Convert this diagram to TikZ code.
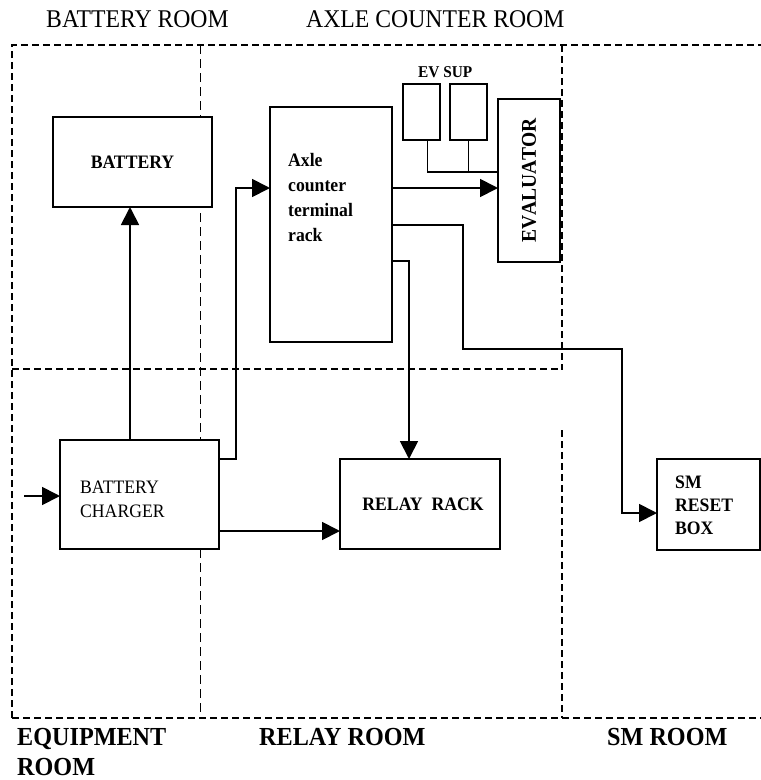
\documentclass[tikz,border=0pt]{standalone}
\usepackage{fontspec}
\setmainfont[FakeStretch=0.93]{Liberation Serif}
\usetikzlibrary{arrows.meta}

\begin{document}
\begin{tikzpicture}[x=1pt, y=-1pt,
        room line/.style={line width=1.6pt, dash pattern=on 7pt off 4pt},
        inner line/.style={line width=1pt, dash pattern=on 9pt off 5pt},
        unit box/.style={draw, line width=1.7pt, fill=white, anchor=north west, inner sep=0pt, outer sep=0pt},
        wire/.style={line width=1.8pt},
        feed/.style={wire, -{Triangle[length=18pt, width=18pt]}},
        box text/.style={font=\fontsize{19}{23}\selectfont\bfseries, inner sep=0pt},
        room text/.style={font=\fontsize{25.5}{30}\selectfont, anchor=base west, inner sep=0pt},
        zone text/.style={font=\fontsize{26}{30}\selectfont\bfseries, anchor=base west, inner sep=0pt, align=left},
    ]

    \useasboundingbox (0,0) rectangle (761,780);

    % Room borders
    \draw[room line] (12,718) -- (12,45) -- (761,45);
    \draw[room line] (12,718) -- (761,718);
    \draw[room line] (12,369) -- (562,369);
    \draw[room line] (562,45) -- (562,370);
    \draw[room line] (562,430) -- (562,718);
    \draw[inner line] (200,45) -- (200,718);

    % Room names (base of multi-line nodes is the last line)
    \node[room text] (battery room) at (46,27) {BATTERY ROOM};
    \node[room text] (axle room) at (306,27) {AXLE COUNTER ROOM};
    \node[zone text] (equipment room) at (17,775) {EQUIPMENT\\ROOM};
    \node[zone text] (relay room) at (259,745) {RELAY ROOM};
    \node[zone text] (sm room) at (607,745) {SM ROOM};

    % Units
    \node[unit box, minimum width=159pt, minimum height=90pt] (battery) at (53,117) {};
    \node[unit box, minimum width=122pt, minimum height=235pt] (rack) at (270,107) {};
    \node[unit box, minimum width=37pt, minimum height=56pt] (ev) at (403,84) {};
    \node[unit box, minimum width=37pt, minimum height=56pt] (sup) at (450,84) {};
    \node[unit box, minimum width=62pt, minimum height=163pt] (evaluator) at (498,99) {};
    \node[unit box, minimum width=159pt, minimum height=109pt] (charger) at (60,440) {};
    \node[unit box, minimum width=160pt, minimum height=90pt] (relay) at (340,459) {};
    \node[unit box, minimum width=103pt, minimum height=91pt] (sm box) at (657,459) {};

    % Unit labels
    \node[box text] (battery label) at (battery.center) {BATTERY};
    \node[box text, font=\fontsize{19}{25}\selectfont\bfseries, anchor=base west, align=left] (rack label) at (288,241) {Axle\\counter\\terminal\\rack};
    \node[box text, font=\fontsize{16.5}{20}\selectfont\bfseries, anchor=base west] (ev label) at (418,77) {EV SUP};
    \node[box text, font=\fontsize{21}{25}\selectfont\bfseries\addfontfeature{Kerning=Off}, rotate=90] (evaluator label) at (evaluator.center) {EVALUATOR};
    \node[box text, font=\fontsize{19}{24}\selectfont, anchor=base west, align=left] (charger label) at (80,517) {BATTERY\\CHARGER};
    \node[box text, xshift=3pt] (relay label) at (relay.center) {RELAY\ \ RACK};
    \node[box text, anchor=base west, align=left] (sm label) at (675,534) {SM\\RESET\\BOX};

    % Supply into the charger
    \coordinate (mains) at (24,496);
    \draw[feed] (mains) -- (mains -| charger.west);
    \draw[feed] ([xshift=-2.5pt]charger.north -| battery.south) -- ([xshift=-2.5pt]battery.south);
    \draw[feed] ([yshift=-19pt]charger.north east) -- ++(17,0) |- ([yshift=-81pt]rack.north west);
    \draw[feed] ([yshift=-91pt]charger.north east) -- ([yshift=18pt]relay.south west);

    % Outputs of the terminal rack
    \draw[feed] ([yshift=-81pt]rack.north east) -- ([yshift=-89pt]evaluator.north west);
    \draw[wire] ([xshift=6pt]ev.south) |- ([yshift=-73pt]evaluator.north west);
    \draw[wire] (sup.south) -- ++(0,32);
    \draw[feed] ([yshift=-118pt]rack.north east) -- ++(71,0) -- ++(0,124) -- ++(159,0) |- ([yshift=-54pt]sm box.north west);
    \draw[feed] ([yshift=-154pt]rack.north east) -| ([xshift=69pt]relay.north west);

\end{tikzpicture}
\end{document}
